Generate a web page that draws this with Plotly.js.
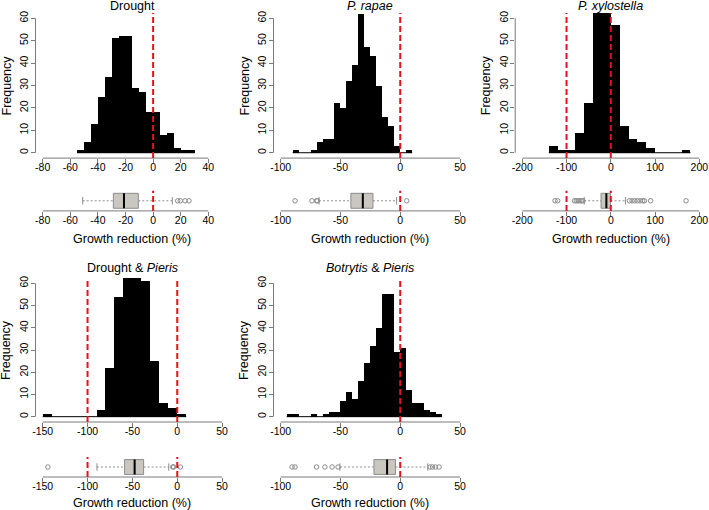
<!DOCTYPE html>
<html><head><meta charset="utf-8">
<script src="https://cdn.plot.ly/plotly-3.0.1.min.js"></script>
<style>html,body{margin:0;padding:0;background:#fff}#chart{width:709px;height:510px}</style>
</head><body><div id="chart"></div>
<script>
// ================= DATA =================
const panelTitles = ['Drought', '<i>P. rapae</i>', '<i>P. xylostella</i>', 'Drought & <i>Pieris</i>', '<i>Botrytis</i> & <i>Pieris</i>'];
const xLabel = 'Growth reduction (%)';
const yLabel = 'Frequency';

// histogram bins (first bin left edge, bin width) and counts
const droughtBinStart = -55, droughtBinWidth = 5;
const droughtCounts = [1, 5, 13, 25, 34, 51, 52, 52, 29, 27, 18, 18, 8, 9, 2, 1, 1];

const rapaeBinStart = -90, rapaeBinWidth = 5;
const rapaeCounts = [1, 0, 0, 1, 5, 6, 6, 22, 20, 32, 39, 62, 47, 43, 30, 16, 12, 3, 0, 1];

const xylostellaBinStart = -140, xylostellaBinWidth = 20;
const xylostellaCounts = [3, 1, 1, 9, 22, 115, 112, 57, 12, 6, 5, 2, 0, 0, 0, 1];

const droughtPierisBinStart = -150, droughtPierisBinWidth = 10;
const droughtPierisCounts = [1, 0, 0, 0, 0, 0, 3, 22, 54, 85, 84, 61, 25, 6, 4, 1];

const botrytisPierisBinStart = -95, botrytisPierisBinWidth = 5;
const botrytisPierisCounts = [1, 1, 0, 0, 1, 0, 1, 2, 2, 7, 11, 8, 16, 24, 32, 40, 55, 55, 29, 31, 12, 6, 6, 3, 2, 1];

// axis limits and ticks
const droughtXlim = [-80, 50], droughtTicks = [-80, -60, -40, -20, 0, 20, 40];
const rapaeXlim = [-100, 50], rapaeTicks = [-100, -50, 0, 50];
const xylostellaXlim = [-200, 200], xylostellaTicks = [-200, -100, 0, 100, 200];
const droughtPierisXlim = [-150, 50], droughtPierisTicks = [-150, -100, -50, 0, 50];
const botrytisPierisXlim = [-100, 50], botrytisPierisTicks = [-100, -50, 0, 50];
const freqYlim = [0, 60], freqTicks = [0, 10, 20, 30, 40, 50, 60];

// dashed reference lines
const droughtRefs = [0], rapaeRefs = [0], xylostellaRefs = [-100, 0], droughtPierisRefs = [-100, 0], botrytisPierisRefs = [0];

// boxplot statistics: [lower whisker, Q1, median, Q3, upper whisker]
const droughtBox = [-51, -28.8, -21.1, -10.7, 13.9];
const droughtOutliers = [17.8, 19.7, 23.1, 26.0];
const rapaeBox = [-67.9, -41.3, -31.3, -22.8, -3.0];
const rapaeOutliers = [-88, -73.8, -70, -69.3, 5.4];
const xylostellaBox = [-60, -22, -10, -0.5, 33];
const xylostellaOutliers = [-126, -120, -82, -78, -74, -70, -66, -63, 42, 48, 54, 60, 66, 72, 76, 90, 170];
const droughtPierisBox = [-89.5, -58.7, -47.5, -37.5, -9.5];
const droughtPierisOutliers = [-144.2, -5, -4, 3.5];
const botrytisPierisBox = [-50.5, -22, -11, -4, 23];
const botrytisPierisOutliers = [-90.5, -88, -70, -63, -57, -52, 25, 27, 29.5, 32.5];

// ================= LAYOUT GEOMETRY =================
const W = 709, H = 510;
const panels = [
  {counts: droughtCounts, start: droughtBinStart, bw: droughtBinWidth, xlim: droughtXlim, ticks: droughtTicks, refs: droughtRefs, box: droughtBox, out: droughtOutliers, col: 0, row: 0},
  {counts: rapaeCounts, start: rapaeBinStart, bw: rapaeBinWidth, xlim: rapaeXlim, ticks: rapaeTicks, refs: rapaeRefs, box: rapaeBox, out: rapaeOutliers, col: 1, row: 0},
  {counts: xylostellaCounts, start: xylostellaBinStart, bw: xylostellaBinWidth, xlim: xylostellaXlim, ticks: xylostellaTicks, refs: xylostellaRefs, box: xylostellaBox, out: xylostellaOutliers, col: 2, row: 0},
  {counts: droughtPierisCounts, start: droughtPierisBinStart, bw: droughtPierisBinWidth, xlim: droughtPierisXlim, ticks: droughtPierisTicks, refs: droughtPierisRefs, box: droughtPierisBox, out: droughtPierisOutliers, col: 0, row: 1},
  {counts: botrytisPierisCounts, start: botrytisPierisBinStart, bw: botrytisPierisBinWidth, xlim: botrytisPierisXlim, ticks: botrytisPierisTicks, refs: botrytisPierisRefs, box: botrytisPierisBox, out: botrytisPierisOutliers, col: 1, row: 1}
];
const colPx = [[35.5, 229.3], [273.5, 467.2], [515.2, 706.4]];
const histRowPx = [[12.9, 158.1], [278, 422]];
const boxRowPx = [[190.7, 210.9], [457, 477]];
const titleYPx = [6, 268];
const xLabelYPx = [239, 503];

const FONT = 'Liberation Sans, Arial, Helvetica, sans-serif';
const AXIS_GREY = '#7a7a7a';
const BOX_HALF = 0.4, CAP_HALF = 0.2;

const xDom = c => [colPx[c][0] / W, colPx[c][1] / W];
const yDom = r => [1 - r[1] / H, 1 - r[0] / H];
const pad = lim => { const d = 0.04 * (lim[1] - lim[0]); return [lim[0] - d, lim[1] + d]; };

const traces = [], shapes = [], annotations = [];
const layout = {
  width: W, height: H, margin: {l: 0, r: 0, t: 0, b: 0},
  paper_bgcolor: '#fff', plot_bgcolor: 'rgba(0,0,0,0)',
  showlegend: false, bargap: 0,
  font: {family: FONT, color: '#000', size: 10},
  shapes: shapes, annotations: annotations
};

panels.forEach((p, i) => {
  const hn = 2 * i + 1, bn = 2 * i + 2;
  const hx = 'x' + (hn === 1 ? '' : hn), hy = 'y' + (hn === 1 ? '' : hn);
  const bx = 'x' + bn, by = 'y' + bn;
  const hxKey = 'xaxis' + (hn === 1 ? '' : hn), hyKey = 'yaxis' + (hn === 1 ? '' : hn);
  const xd = xDom(p.col), hyd = yDom(histRowPx[p.row]), byd = yDom(boxRowPx[p.row]);
  const xr = pad(p.xlim);
  const tickText = p.ticks.map(v => String(v));
  const xAxisCommon = {
    domain: xd, range: xr, tickmode: 'array', tickvals: p.ticks, ticktext: tickText,
    ticks: 'outside', ticklen: 4, tickcolor: AXIS_GREY, tickwidth: 1, ticklabelstandoff: -5,
    showline: false, zeroline: false, showgrid: false, fixedrange: true,
    tickfont: {size: 10.5, family: FONT, color: '#000'}
  };
  layout[hxKey] = Object.assign({anchor: hy}, xAxisCommon);
  layout['xaxis' + bn] = Object.assign({anchor: by}, xAxisCommon);
  layout[hyKey] = {
    domain: hyd, range: pad(freqYlim), anchor: hx, tickmode: 'array', tickvals: freqTicks,
    ticktext: freqTicks.map(String), tickangle: -90,
    ticks: 'outside', ticklen: 4, tickcolor: AXIS_GREY, tickwidth: 1, ticklabelstandoff: -2,
    showline: false, zeroline: false, showgrid: false, fixedrange: true,
    tickfont: {size: 10.5, family: FONT, color: '#000'}
  };
  layout['yaxis' + bn] = {domain: byd, range: [-0.54, 0.54], anchor: bx, visible: false, fixedrange: true};

  // histogram
  const centers = p.counts.map((_, k) => p.start + p.bw * (k + 0.5));
  const lastEdge = p.start + p.bw * p.counts.length;
  traces.push({type: 'scatter', mode: 'lines', x: [p.start, lastEdge], y: [0, 0], xaxis: hx, yaxis: hy,
    line: {color: '#000', width: 1}, hoverinfo: 'skip'});
  traces.push({type: 'bar', x: centers, y: p.counts, width: p.bw, xaxis: hx, yaxis: hy,
    marker: {color: '#000', line: {width: 0}}, hoverinfo: 'x+y'});

  // boxplot
  const [lw, q1, med, q3, uw] = p.box;
  traces.push({type: 'scatter', mode: 'lines', x: [lw, q1, null, q3, uw], y: [0, 0, null, 0, 0], xaxis: bx, yaxis: by,
    line: {color: '#8c8c8c', width: 1, dash: '2px,2px'}, hoverinfo: 'skip'});
  traces.push({type: 'scatter', mode: 'lines', x: [lw, lw, null, uw, uw], y: [-CAP_HALF, CAP_HALF, null, -CAP_HALF, CAP_HALF], xaxis: bx, yaxis: by,
    line: {color: '#8c8c8c', width: 1}, hoverinfo: 'skip'});
  traces.push({type: 'scatter', mode: 'lines', x: [q1, q3, q3, q1, q1], y: [-BOX_HALF, -BOX_HALF, BOX_HALF, BOX_HALF, -BOX_HALF],
    fill: 'toself', fillcolor: '#cac7c0', xaxis: bx, yaxis: by, line: {color: '#8c8c8c', width: 1}, hoverinfo: 'skip'});
  traces.push({type: 'scatter', mode: 'lines', x: [med, med], y: [-BOX_HALF, BOX_HALF], xaxis: bx, yaxis: by,
    line: {color: '#000', width: 2}, hoverinfo: 'skip'});
  traces.push({type: 'scatter', mode: 'markers', x: p.out, y: p.out.map(() => 0), xaxis: bx, yaxis: by,
    marker: {symbol: 'circle-open', size: 4.5, color: '#8c8c8c', line: {width: 1}}, hoverinfo: 'x'});

  // axis lines (R style: from first to last tick)
  const first = p.ticks[0], last = p.ticks[p.ticks.length - 1];
  shapes.push({type: 'line', xref: hx, yref: 'paper', x0: first, x1: last, y0: hyd[0], y1: hyd[0], line: {color: AXIS_GREY, width: 1}});
  shapes.push({type: 'line', xref: bx, yref: 'paper', x0: first, x1: last, y0: byd[0], y1: byd[0], line: {color: AXIS_GREY, width: 1}});
  shapes.push({type: 'line', xref: 'paper', yref: hy, x0: xd[0], x1: xd[0], y0: freqYlim[0], y1: freqYlim[1], line: {color: AXIS_GREY, width: 1}});

  // red dashed reference lines
  p.refs.forEach(v => {
    [[hx, hy], [bx, by]].forEach(([ax, ay]) => {
      shapes.push({type: 'line', xref: ax, yref: ay + ' domain', x0: v, x1: v, y0: 0, y1: 1,
        line: {color: '#e3121b', width: 2, dash: '6px,3px'}});
    });
  });

  // titles and labels
  const xc = (xd[0] + xd[1]) / 2;
  annotations.push({text: panelTitles[i], xref: 'paper', yref: 'paper', x: xc, y: 1 - titleYPx[p.row] / H,
    xanchor: 'center', yanchor: 'middle', showarrow: false, font: {size: 12.5, family: FONT, color: '#000'}});
  annotations.push({text: xLabel, xref: 'paper', yref: 'paper', x: xc, y: 1 - xLabelYPx[p.row] / H,
    xanchor: 'center', yanchor: 'middle', showarrow: false, font: {size: 12.5, family: FONT, color: '#000'}});
  annotations.push({text: yLabel, xref: 'paper', yref: 'paper', x: xd[0], xshift: -29.5, y: (hyd[0] + hyd[1]) / 2,
    textangle: -90, xanchor: 'center', yanchor: 'middle', showarrow: false, font: {size: 12.5, family: FONT, color: '#000'}});
});

Plotly.newPlot('chart', traces, layout, {displayModeBar: false, staticPlot: true});
</script>
</body></html>
